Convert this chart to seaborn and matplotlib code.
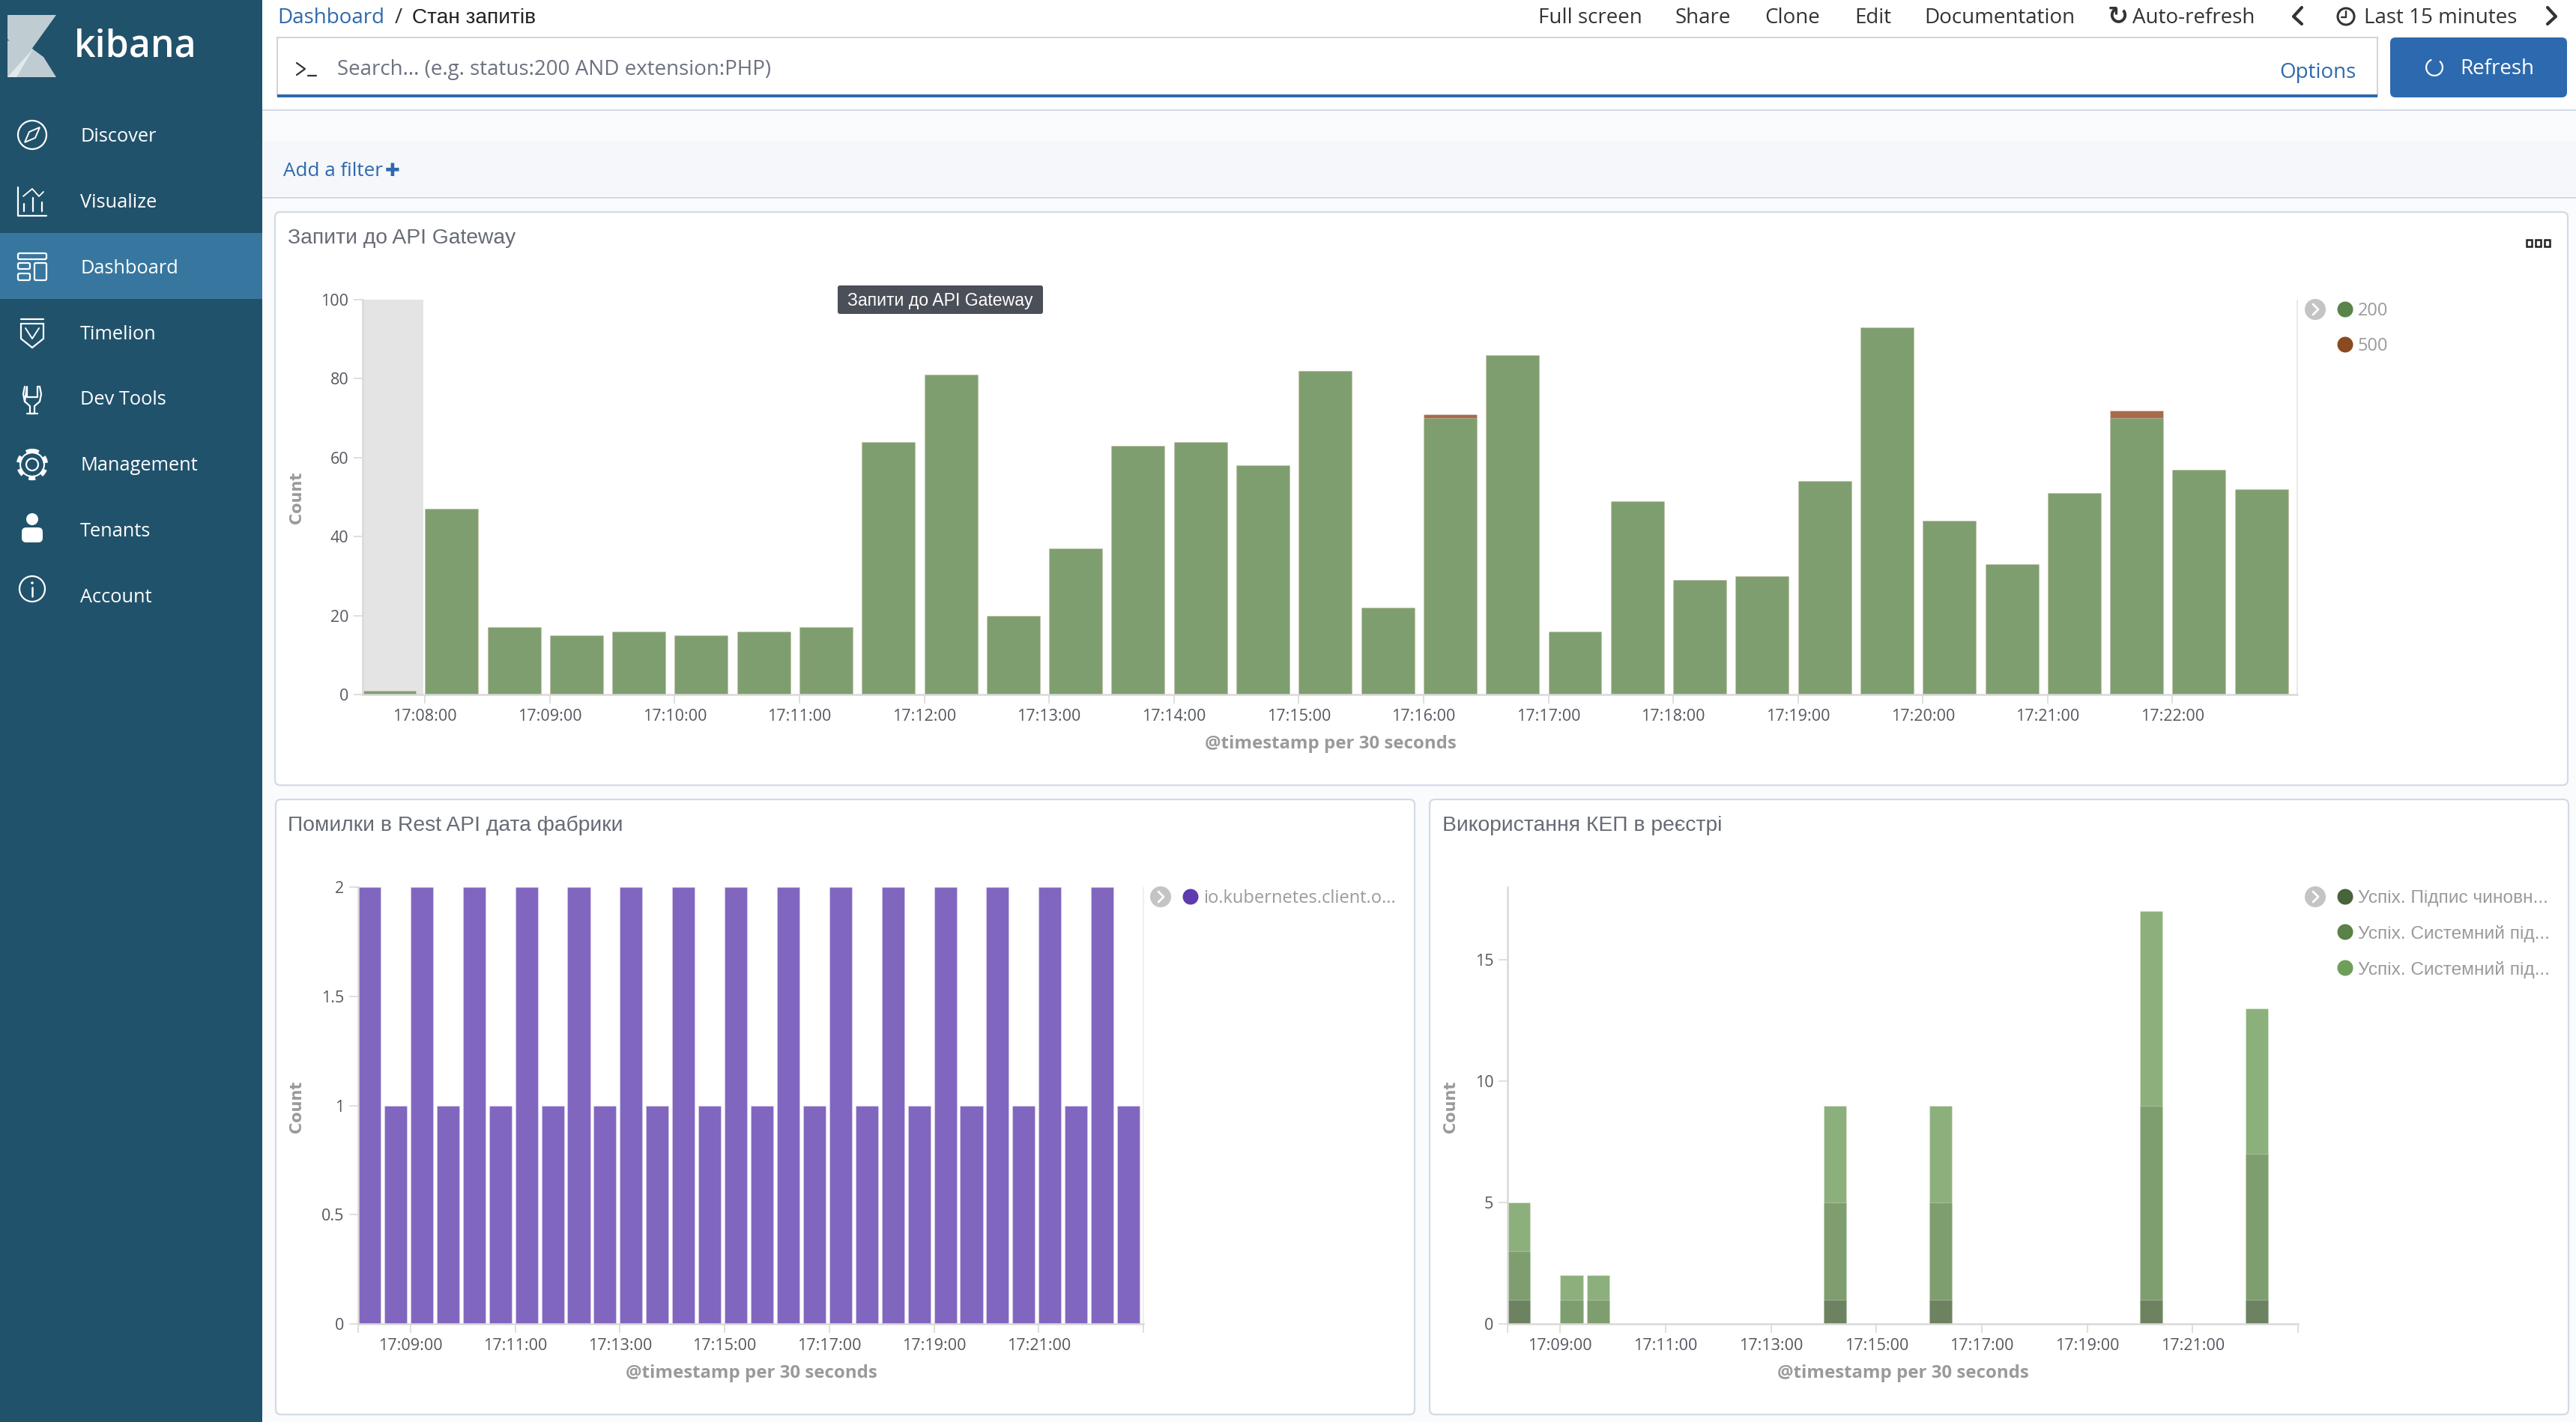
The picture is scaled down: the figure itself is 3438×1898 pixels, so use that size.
import pandas as pd
import seaborn as sns
import matplotlib.pyplot as plt
from matplotlib.patches import Rectangle, FancyBboxPatch, Circle, Polygon, Wedge

W, H = 3438, 1898

# Top chart: requests to API Gateway, one bar per 30 seconds
gateway_times = ['17:07:30', '17:08:00', '17:08:30', '17:09:00', '17:09:30', '17:10:00', '17:10:30',
                 '17:11:00', '17:11:30', '17:12:00', '17:12:30', '17:13:00', '17:13:30', '17:14:00',
                 '17:14:30', '17:15:00', '17:15:30', '17:16:00', '17:16:30', '17:17:00', '17:17:30',
                 '17:18:00', '17:18:30', '17:19:00', '17:19:30', '17:20:00', '17:20:30', '17:21:00',
                 '17:21:30', '17:22:00', '17:22:30']
status_200 = [1, 47, 17, 15, 16, 15, 16, 17, 64, 81, 20, 37, 63, 64, 58, 82, 22, 70, 86, 16, 49, 29, 30,
              54, 93, 44, 33, 51, 70, 57, 52]
status_500 = [0, 0, 0, 0, 0, 0, 0, 0, 0, 0, 0, 0, 0, 0, 0, 0, 0, 1, 0, 0, 0, 0, 0, 0, 0, 0, 0, 0, 2, 0, 0]
gateway_ticks = ['17:08:00', '17:09:00', '17:10:00', '17:11:00', '17:12:00', '17:13:00', '17:14:00',
                 '17:15:00', '17:16:00', '17:17:00', '17:18:00', '17:19:00', '17:20:00', '17:21:00', '17:22:00']

# Bottom charts share the time buckets
bottom_times = gateway_times[1:] + ['17:23:00']
bottom_ticks = ['17:09:00', '17:11:00', '17:13:00', '17:15:00', '17:17:00', '17:19:00', '17:21:00']

rest_errors = [2, 1] * 15

kep_dark = [1, 0, 0, 0, 0, 0, 0, 0, 0, 0, 0, 0, 1, 0, 0, 0, 1, 0, 0, 0, 0, 0, 0, 0, 1, 0, 0, 0, 1, 0]
kep_mid = [2, 0, 1, 1, 0, 0, 0, 0, 0, 0, 0, 0, 4, 0, 0, 0, 4, 0, 0, 0, 0, 0, 0, 0, 8, 0, 0, 0, 6, 0]
kep_light = [2, 0, 1, 1, 0, 0, 0, 0, 0, 0, 0, 0, 4, 0, 0, 0, 4, 0, 0, 0, 0, 0, 0, 0, 8, 0, 0, 0, 6, 0]

menu_items = ['Discover', 'Visualize', 'Dashboard', 'Timelion', 'Dev Tools', 'Management', 'Tenants', 'Account']
nav_items = [('Full screen', 2053), ('Share', 2236), ('Clone', 2355), ('Edit', 2475),
             ('Documentation', 2568), ('Auto-refresh', 2846), ('Last 15 minutes', 3155)]

GRAY = '#9A9A9A'
TICK = '#54585F'
TITLE = '#666B75'
BLUE = '#2D69AE'
LINE = '#D3DAE6'
AXIS = '#D9D9D9'

sns.set_style('white')
plt.rcParams['font.family'] = ['Open Sans', 'DejaVu Sans']

fig = plt.figure(figsize=(W / 100, H / 100), dpi=100)
bg = fig.add_axes([0, 0, 1, 1], zorder=0)
bg.set_xlim(0, W)
bg.set_ylim(H, 0)
bg.axis('off')


def txt(x, y, s, size=18, color='#222222', **kw):
    kw.setdefault('va', 'center')
    bg.text(x, y + 2, s, fontsize=size, color=color, **kw)


def rect(x0, y0, x1, y1, color, **kw):
    bg.add_patch(Rectangle((x0, y0), x1 - x0, y1 - y0, facecolor=color, edgecolor='none', **kw))


def panel(x0, y0, x1, y1):
    bg.add_patch(FancyBboxPatch((x0, y0), x1 - x0, y1 - y0, boxstyle='round,pad=0,rounding_size=7',
                                facecolor='white', edgecolor=LINE, linewidth=1.6))


def line(xs, ys, color='white', lw=1.6):
    bg.plot(xs, ys, color=color, lw=lw, solid_capstyle='round', solid_joinstyle='round')


def ring(x, y, r, color='white', lw=1.6, fill='none', **kw):
    bg.add_patch(Circle((x, y), r, facecolor=fill, edgecolor=color, linewidth=lw, **kw))


def chevron(x, y):
    bg.add_patch(Circle((x, y), 14, facecolor='#C4C4C4', edgecolor='none'))
    line([x - 3, x + 4, x - 3], [y - 7, y, y + 7], 'white', 2)


def legend_row(x, y, color, label, **kw):
    bg.add_patch(Circle((x, y), 10.5, facecolor=color, edgecolor='none'))
    txt(x + 17, y, label, kw.pop('size', 17), GRAY, **kw)


# page background, sidebar, header
rect(0, 0, W, H, '#FAFBFD')
rect(0, 0, W, 147, 'white')
rect(350, 188, W, 264, '#F5F7FA')
rect(350, 146, W, 148, LINE)
rect(350, 263, W, 265, LINE)
rect(0, 0, 350, H, '#21526B')
rect(0, 311, 350, 399, '#37779F')

# logo
bg.add_patch(Polygon([(10, 20), (75, 20), (34, 77), (10, 52)], facecolor='#BFCDD3', edgecolor='none'))
bg.add_patch(Polygon([(10, 54), (36, 60), (58, 76), (75, 103), (10, 103)], facecolor='#BFCDD3', edgecolor='none'))
bg.add_patch(Polygon([(10, 103), (45, 64), (22, 103)], facecolor='#E3E9EB', edgecolor='none'))
txt(99, 60, 'kibana', 36, 'white', fontweight='semibold')

menu_y = [180, 268, 356, 444, 532, 620, 708, 796]
for name, y in zip(menu_items, menu_y):
    txt(107, y, name, 18.3, 'white')

# sidebar icons
ring(43, 180, 19)
bg.add_patch(Polygon([(53, 170), (47, 184), (33, 190), (39, 176)], facecolor='none', edgecolor='white', linewidth=1.4))
line([24, 24, 62], [250, 288, 288])
line([31, 43, 52, 58], [262, 252, 262, 256], lw=1.3)
for x, y0 in [(32, 272), (44, 264), (56, 270)]:
    line([x, x], [y0, 282])
bg.add_patch(FancyBboxPatch((24, 338), 38, 8, boxstyle='round,pad=0,rounding_size=2', facecolor='none', edgecolor='white', linewidth=1.6))
bg.add_patch(FancyBboxPatch((24, 351), 16, 8, boxstyle='round,pad=0,rounding_size=2', facecolor='none', edgecolor='white', linewidth=1.6))
bg.add_patch(FancyBboxPatch((24, 365), 16, 9, boxstyle='round,pad=0,rounding_size=2', facecolor='none', edgecolor='white', linewidth=1.6))
bg.add_patch(FancyBboxPatch((46, 351), 16, 23, boxstyle='round,pad=0,rounding_size=2', facecolor='none', edgecolor='white', linewidth=1.6))
line([28, 58], [426, 426])
bg.add_patch(Polygon([(28, 432), (58, 432), (58, 452), (43, 464), (28, 452)], facecolor='none', edgecolor='white', linewidth=1.6))
line([34, 43, 52], [438, 452, 438], lw=1.4)
line([33, 31, 33, 36, 36, 50, 50, 53, 55, 53, 46, 46, 40, 40, 33],
     [516, 526, 536, 516, 530, 530, 516, 516, 526, 536, 542, 552, 552, 542, 536])
line([36, 50], [552, 552])
ring(43, 620, 8)
ring(43, 620, 16, lw=1.5)
ring(43, 620, 18, lw=4.5, linestyle=(0, (1.4, 1.4)))
bg.add_patch(Circle((43, 693), 8, facecolor='white', edgecolor='none'))
bg.add_patch(FancyBboxPatch((29, 704), 28, 20, boxstyle='round,pad=0,rounding_size=6', facecolor='white', edgecolor='none'))
ring(43, 786, 17)
line([43, 43], [784, 796], lw=1.8)
bg.add_patch(Circle((43, 778), 1.8, facecolor='white', edgecolor='none'))

# breadcrumb and top nav
txt(370, 22, 'Dashboard', 20, BLUE)
txt(527, 22, '/', 20, '#333333')
txt(550, 22, 'Стан запитів', 20.2, '#222222', family='Liberation Sans')
for name, x in nav_items:
    txt(x, 22, name, 20, '#333333')
txt(2813, 20, '↻', 24, '#333333', family='DejaVu Sans', fontweight='bold')
line([3072, 3061, 3072], [10, 22, 32], '#333333', 3)
line([3400, 3411, 3400], [10, 22, 32], '#333333', 3)
ring(3131, 22, 11, '#333333', 2.2)
line([3131, 3131, 3125], [15, 23, 23], '#333333', 1.7)

# search bar
bg.add_patch(Rectangle((370, 50), 2803, 78, facecolor='white', edgecolor='#D5D5D5', linewidth=1.5))
rect(370, 126, 3173, 130, BLUE)
line([396, 407, 396], [84, 92, 100], '#333333', 1.6)
line([411, 422], [101, 101], '#333333', 1.6)
txt(450, 91, 'Search... (e.g. status:200 AND extension:PHP)', 20, '#6C7280')
txt(3042, 95, 'Options', 20, BLUE)
bg.add_patch(FancyBboxPatch((3190, 50), 236, 80, boxstyle='round,pad=0,rounding_size=7', facecolor=BLUE, edgecolor='none'))
txt(3283, 90, 'Refresh', 20, 'white')
bg.add_patch(Wedge((3249, 90), 12, -50, 250, width=2.2, facecolor='white', edgecolor='none'))

txt(378, 226, 'Add a filter', 18.7, BLUE)
txt(514, 226, '✚', 17, BLUE, family='DejaVu Sans')

# panels
panel(367, 283, 3427, 1048)
panel(368, 1067, 1888, 1888)
panel(1908, 1067, 3428, 1888)
txt(384, 316, 'Запити до API Gateway', 20.3, TITLE, family='Liberation Sans')
txt(384, 1100, 'Помилки в Rest API дата фабрики', 20.3, TITLE, family='Liberation Sans')
txt(1925, 1100, 'Використання КЕП в реєстрі', 20.3, TITLE, family='Liberation Sans')
for x in (3372, 3384, 3396):
    bg.add_patch(Rectangle((x, 320), 7, 9, facecolor='white', edgecolor='#222222', linewidth=1.8))

# tooltip
bg.add_patch(FancyBboxPatch((1118, 381), 274, 38, boxstyle='round,pad=0,rounding_size=3', facecolor='#4B4F58', edgecolor='none'))
txt(1255, 399, 'Запити до API Gateway', 16.6, 'white', ha='center', family='Liberation Sans')

# legends
rect(3065, 400, 3067, 927, '#E8E8E8')
rect(1525, 1184, 1527, 1767, '#EFEFEF')
chevron(3090, 413)
legend_row(3130, 413, '#5A8449', '200')
legend_row(3130, 460, '#8B4A1F', '500')
chevron(1549, 1197)
legend_row(1589, 1197, '#5E3BAF', 'io.kubernetes.client.o...')
chevron(3090, 1197)
legend_row(3130, 1197, '#47643A', 'Успіх. Підпис чиновн...', family='Liberation Sans', size=17.6)
legend_row(3130, 1244, '#5A8147', 'Успіх. Системний під...', family='Liberation Sans', size=17.6)
legend_row(3130, 1292, '#6E9E57', 'Успіх. Системний під...', family='Liberation Sans', size=17.6)

# axis titles
for x, y in [(396, 662), (396, 1475), (1936, 1475)]:
    txt(x, y, 'Count', 15, GRAY, rotation=90, ha='center', family='DejaVu Sans', fontweight='bold')
for x, y in [(1776, 991), (1003, 1831), (2540, 1831)]:
    txt(x, y, '@timestamp per 30 seconds', 17.3, GRAY, ha='center', fontweight='bold')


def chart_axes(x0, y0, x1, y1):
    ax = fig.add_axes([x0 / W, 1 - y1 / H, (x1 - x0) / W, (y1 - y0) / H], zorder=1)
    ax.patch.set_alpha(0)
    return ax


def stacked_bars(ax, times, series, colors, width):
    # drawn back to front with running totals so the lower series sit on top
    totals = [sum(vals) for vals in zip(*series)]
    for vals, color in zip(reversed(series), reversed(colors)):
        df = pd.DataFrame({'time': times, 'count': totals})
        sns.barplot(data=df, x='time', y='count', order=times, color=color, saturation=1, width=width,
                    errorbar=None, ax=ax, edgecolor='#FFFFFF40', linewidth=0.8)
        totals = [t - v for t, v in zip(totals, vals)]


def style_axes(ax, times, tick_labels, width, ymax, yticks, ylabels):
    half = width / 2
    ax.set_xlim(-half, len(times) - half)
    ax.set_ylim(0, ymax)
    ticks = [-half] + [times.index(t) - half for t in tick_labels] + [len(times) - half]
    ax.set_xticks(ticks)
    ax.set_xticklabels([''] + tick_labels + [''])
    ax.set_yticks(yticks)
    ax.set_yticklabels(ylabels)
    ax.set_xlabel('')
    ax.set_ylabel('')
    ax.tick_params(axis='both', length=8.5, width=1.2, color=AXIS, labelcolor=TICK, labelsize=15.5, pad=5, left=True, bottom=True)
    ax.grid(False)
    for side in ('top', 'right'):
        ax.spines[side].set_visible(False)
    for side in ('left', 'bottom'):
        ax.spines[side].set_visible(True)
        ax.spines[side].set_color(AXIS)
        ax.spines[side].set_linewidth(1.8)


top_width = 0.852
ax1 = chart_axes(484, 400, 3066, 927)
ax1.axvspan(-top_width / 2, 1 - top_width / 2 - 0.03, color='#E4E4E4', lw=0, zorder=0)
stacked_bars(ax1, gateway_times, [status_200, status_500], ['#7F9E6F', '#A66B4A'], top_width)
style_axes(ax1, gateway_times, gateway_ticks, top_width, 100, [0, 20, 40, 60, 80, 100],
           ['0', '20', '40', '60', '80', '100'])
# the first tick sits on the axis start and has no label
ax1.set_xticks(ax1.get_xticks()[1:-1])
ax1.set_xticklabels(gateway_ticks)

ax2 = chart_axes(478, 1184, 1526, 1767)
stacked_bars(ax2, bottom_times[:30], [rest_errors], ['#8166BF'], 0.86)
style_axes(ax2, bottom_times[:30], bottom_ticks, 0.86, 2, [0, 0.5, 1, 1.5, 2], ['0', '0.5', '1', '1.5', '2'])

ax3 = chart_axes(2012, 1184, 3067, 1767)
stacked_bars(ax3, bottom_times[:30], [kep_dark, kep_mid, kep_light], ['#6C8260', '#7F9E6F', '#8CB07B'], 0.86)
style_axes(ax3, bottom_times[:30], bottom_ticks, 0.86, 18, [0, 5, 10, 15], ['0', '5', '10', '15'])

fig.savefig('out.png', dpi=100)
